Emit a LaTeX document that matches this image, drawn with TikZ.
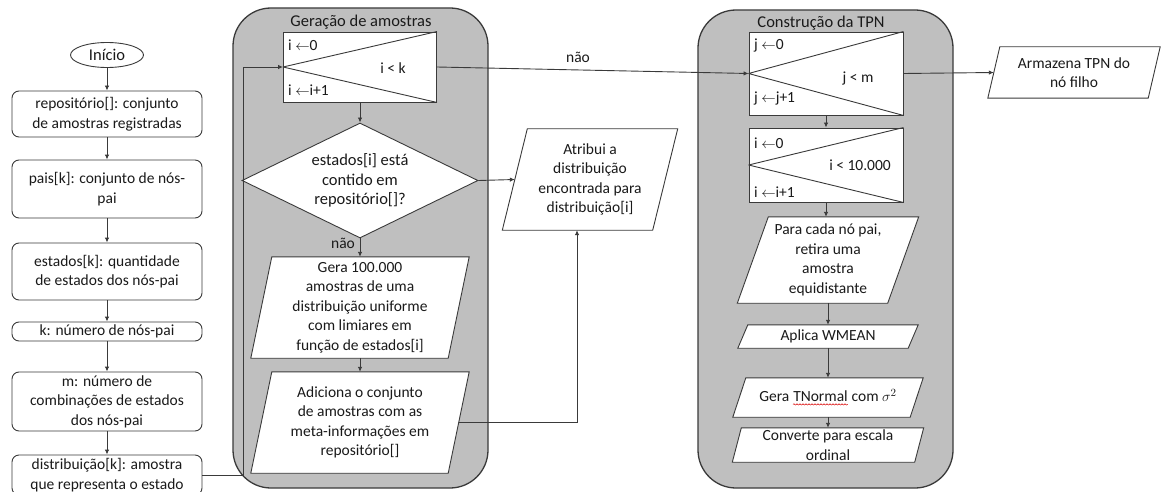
\documentclass[tikz,border=0pt]{standalone}
\usepackage{fontspec}
\setmainfont{Carlito}
\usetikzlibrary{shapes.geometric,arrows.meta,calc,decorations.pathmorphing}
\pgfdeclarelayer{back}
\pgfdeclarelayer{mid}
\pgfsetlayers{back,mid,main}
\definecolor{edge}{HTML}{3A3A3A}
\definecolor{panel}{HTML}{BFBFBF}
\definecolor{ink}{HTML}{1A1A1A}

% parallelogram frame drawn behind a text node: #1 node name, #2 half of the slant (pt)
\newcommand\slantframe[2]{%
  \begin{pgfonlayer}{mid}
    \draw[frame] ([xshift=#2pt]#1.north west) -- ([xshift=#2pt]#1.north east)
      -- ([xshift=-#2pt]#1.south east) -- ([xshift=-#2pt]#1.south west) -- cycle;
  \end{pgfonlayer}}
% the two diagonals of a loop (for) block
\newcommand\loopdiag[1]{%
  \draw[thinline] (#1.west) -- (#1.north east) (#1.west) -- (#1.south east);}
% word with a red wavy underline
\newcommand\wavyword[1]{\tikz[baseline=(ww.base)]{%
  \node[inner sep=0pt, minimum width=0pt, minimum height=0pt, draw=none, fill=none] (ww) {#1};
  \draw[red!85!black, line width=0.5pt, decorate,
    decoration={snake,amplitude=0.7pt,segment length=3pt}]
    ([yshift=-2.5pt]ww.base west) -- ([yshift=-2.5pt]ww.base east);}}

\begin{document}
\begin{tikzpicture}[x=1pt,y=-1pt,
  font=\fontsize{15.5}{19.5}\selectfont, text=ink,
  frame/.style={draw=edge, line width=0.9pt, fill=white},
  thinline/.style={draw=edge, line width=0.9pt},
  startnode/.style={ellipse, draw=edge, line width=0.9pt, fill=white,
    minimum width=73pt, minimum height=25pt, inner sep=0pt,
    font=\fontsize{16.5}{19.5}\selectfont},
  leftbox/.style={rectangle, rounded corners=7pt, draw=edge, line width=0.9pt,
    fill=white, minimum width=190pt, align=center, inner sep=0pt},
  loopbox/.style={rectangle, draw=edge, line width=0.9pt, fill=white, inner sep=0pt},
  slanted/.style={rectangle, align=center, inner sep=0pt},
  decision/.style={diamond, draw=edge, line width=0.9pt, fill=white, aspect=2.05,
    inner sep=0pt, minimum width=236pt, minimum height=115pt, align=center,
    font=\fontsize{16.5}{19.5}\selectfont},
  panelbox/.style={draw=edge, line width=1.3pt, fill=panel, rounded corners=38pt},
  title/.style={inner sep=0pt, font=\fontsize{16.5}{19.5}\selectfont},
  lbl/.style={inner sep=0pt, anchor=west},
  arr/.style={draw=edge, line width=0.9pt, -{Latex[length=5pt,width=4.5pt]}}
]
\useasboundingbox (0,0) rectangle (1161,492);
\clip (0,0) rectangle (1161,492);

% ---- grey panels ----
\begin{pgfonlayer}{back}
  \draw[panelbox] (233,8) rectangle (488,488);
  \draw[panelbox] (698,10) rectangle (953,488);
\end{pgfonlayer}
\node[title] (t1) at (361,22) {Geração de amostras};
\node[title] (t2) at (821,23) {Construção da TPN};

% ---- left column: initialisation ----
\node[startnode] (inicio) at (107,55) {Início};
\node[leftbox, minimum height=46pt] (repo) at (107,114) {repositório[]: conjunto\\de amostras registradas};
\node[leftbox, minimum height=58pt] (pais) at (107,189) {pais[k]: conjunto de nós-\\pai};
\node[leftbox, minimum height=57pt] (estados) at (107,271.5) {estados[k]: quantidade\\de estados dos nós-pai};
\node[leftbox, minimum height=19pt] (knode) at (107,331.5) {k: número de nós-pai};
\node[leftbox, minimum height=59pt] (mnode) at (107,401.5) {m: número de\\combinações de estados\\dos nós-pai};
\node[leftbox, minimum height=40pt] (distrib) at (107,475) {distribuição[k]: amostra\\que representa o estado};

\draw[arr] (inicio) -- (repo);
\draw[arr] (repo) -- (pais);
\draw[arr] (pais) -- (estados);
\draw[arr] (estados) -- (knode);
\draw[arr] (knode) -- (mnode);
\draw[arr] (mnode) -- (distrib);

% ---- sample generation ----
\node[loopbox, minimum width=153pt, minimum height=70pt] (l1) at (360,67) {};
\loopdiag{l1}
\node[lbl] (l1a) at (288,45) {i $\leftarrow$0};
\node[inner sep=0pt] (l1b) at (393,68) {i < k};
\node[lbl] (l1c) at (288,90) {i $\leftarrow$i+1};

\node[decision] (dec) at (360,180.5) {estados[i] está\\contido em\\repositório[]?};

\node[slanted, minimum width=197pt, minimum height=101pt] (gera) at (360,307.5)
  {Gera 100.000\\amostras de uma\\distribuição uniforme\\com limiares em\\função de estados[i]};
\slantframe{gera}{10.5}
\node[slanted, minimum width=197pt, minimum height=101pt] (adic) at (360,422.5)
  {Adiciona o conjunto\\de amostras com as\\meta-informações em\\repositório[]};
\slantframe{adic}{10.5}
\node[slanted, minimum width=150pt, minimum height=101pt] (atrib) at (590,179.5)
  {Atribui a\\distribuição\\encontrada para\\distribuição[i]};
\slantframe{atrib}{12.5}

\coordinate (loopx) at (243,0);
\coordinate (atribin) at ([xshift=-13pt]atrib.south);

\draw[arr] (distrib.east) -| (loopx |- l1.west) -- (l1.west);
\draw[arr] (l1.south) -- (l1.south |- dec.north);
\draw[arr] (dec.south) -- (gera.north);
\node[inner sep=0pt] (nao1) at (343,243) {não};
\draw[arr] (gera.south) -- (adic.north);
\draw[arr] (dec.east) -- (atrib.west);
\draw[arr] (adic.east) -| (atribin);

% ---- TPN construction ----
\node[loopbox, minimum width=154pt, minimum height=83pt] (l2) at (826,73.5) {};
\loopdiag{l2}
\node[lbl] (l2a) at (754,45) {j $\leftarrow$0};
\node[inner sep=0pt] (l2b) at (858,78) {j < m};
\node[lbl] (l2c) at (754,98) {j $\leftarrow$j+1};

\node[loopbox, minimum width=154pt, minimum height=74pt] (l3) at (826,165) {};
\loopdiag{l3}
\node[lbl] (l3a) at (754,143) {i $\leftarrow$0};
\node[inner sep=0pt] (l3b) at (860,165) {i < 10.000};
\node[lbl] (l3c) at (754,192) {i $\leftarrow$i+1};

\node[slanted, minimum width=150pt, minimum height=86pt] (para) at (828,260)
  {Para cada nó pai,\\retira uma\\amostra\\equidistante};
\slantframe{para}{15.5}
\node[slanted, minimum width=170pt, minimum height=23pt] (aplica) at (828,336.5) {Aplica WMEAN};
\slantframe{aplica}{5}
\node[slanted, minimum width=177pt, minimum height=39pt] (tnorm) at (828,397.5)
  {Gera \wavyword{TNormal} com $\sigma^2$};
\slantframe{tnorm}{6.5}
\node[slanted, minimum width=182pt, minimum height=34pt] (conv) at (828,445)
  {Converte para escala\\ordinal};
\slantframe{conv}{4.5}

\node[slanted, minimum width=160pt, minimum height=51pt] (armaz) at (1074,72.5)
  {Armazena TPN do\\nó filho};
\slantframe{armaz}{6}

\draw[arr] (l1.east) -- (l2.west);
\node[inner sep=0pt] (nao2) at (578,57) {não};
\draw[arr] (l2.east) -- (armaz.west);
\draw[arr] (l2.south) -- (l3.north);
\draw[arr] (l3.south) -- (l3.south |- para.north);
\draw[arr] (para.south) -- (aplica.north);
\draw[arr] (aplica.south) -- (tnorm.north);
\draw[arr] (tnorm.south) -- (conv.north);
\end{tikzpicture}
\end{document}
